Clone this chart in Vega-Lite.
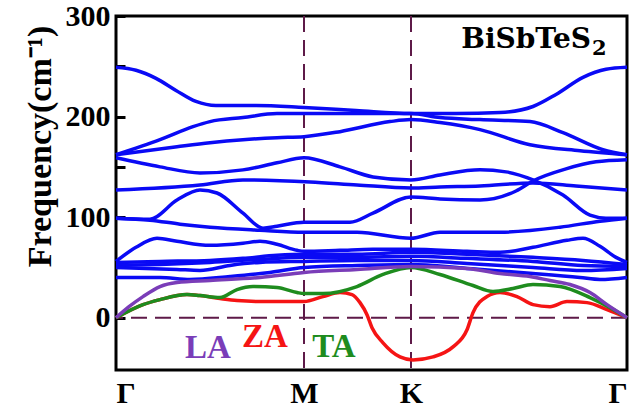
{
  "$schema": "https://vega.github.io/schema/vega-lite/v6.json",
  "width": 511,
  "height": 354,
  "autosize": {"type": "none"},
  "padding": {"left": 116, "top": 16, "right": 2, "bottom": 40},
  "config": {
    "view": {"stroke": "black", "strokeWidth": 3},
    "font": "'Liberation Serif', 'Times New Roman', serif"
  },
  "datasets": {
    "bands": [
      {"b":"o1","k":0,"f":249},{"b":"o1","k":20,"f":246},{"b":"o1","k":40,"f":238},{"b":"o1","k":60,"f":226},{"b":"o1","k":80,"f":215},{"b":"o1","k":100,"f":211},{"b":"o1","k":140,"f":211},{"b":"o1","k":188,"f":209},{"b":"o1","k":240,"f":206},{"b":"o1","k":295,"f":203},{"b":"o1","k":340,"f":203},{"b":"o1","k":384,"f":204},{"b":"o1","k":417,"f":210},{"b":"o1","k":440,"f":222},{"b":"o1","k":467,"f":239},{"b":"o1","k":490,"f":247},{"b":"o1","k":511,"f":249},
      {"b":"o2","k":0,"f":162},{"b":"o2","k":44,"f":177},{"b":"o2","k":77,"f":190},{"b":"o2","k":94,"f":195},{"b":"o2","k":127,"f":199},{"b":"o2","k":161,"f":203},{"b":"o2","k":188,"f":203},{"b":"o2","k":240,"f":203},{"b":"o2","k":295,"f":203},{"b":"o2","k":324,"f":199},{"b":"o2","k":364,"f":197},{"b":"o2","k":414,"f":195},{"b":"o2","k":447,"f":184},{"b":"o2","k":487,"f":167},{"b":"o2","k":511,"f":162},
      {"b":"o3","k":0,"f":162},{"b":"o3","k":61,"f":170},{"b":"o3","k":94,"f":174},{"b":"o3","k":127,"f":177},{"b":"o3","k":161,"f":179},{"b":"o3","k":188,"f":180},{"b":"o3","k":224,"f":185},{"b":"o3","k":274,"f":195},{"b":"o3","k":295,"f":197},{"b":"o3","k":324,"f":194},{"b":"o3","k":364,"f":187},{"b":"o3","k":414,"f":172},{"b":"o3","k":464,"f":166},{"b":"o3","k":511,"f":162},
      {"b":"o4","k":0,"f":159},{"b":"o4","k":44,"f":150},{"b":"o4","k":84,"f":144},{"b":"o4","k":127,"f":147},{"b":"o4","k":161,"f":154},{"b":"o4","k":188,"f":159},{"b":"o4","k":224,"f":150},{"b":"o4","k":257,"f":140},{"b":"o4","k":295,"f":137},{"b":"o4","k":324,"f":142},{"b":"o4","k":364,"f":147},{"b":"o4","k":390,"f":145},{"b":"o4","k":417,"f":137},{"b":"o4","k":447,"f":122},{"b":"o4","k":474,"f":102},{"b":"o4","k":490,"f":99},{"b":"o4","k":511,"f":99},
      {"b":"o5","k":0,"f":127},{"b":"o5","k":84,"f":132},{"b":"o5","k":127,"f":137},{"b":"o5","k":194,"f":135},{"b":"o5","k":241,"f":132},{"b":"o5","k":295,"f":129},{"b":"o5","k":324,"f":130},{"b":"o5","k":364,"f":131},{"b":"o5","k":417,"f":134},{"b":"o5","k":460,"f":131},{"b":"o5","k":511,"f":127},
      {"b":"o6","k":0,"f":99},{"b":"o6","k":34,"f":98},{"b":"o6","k":61,"f":117},{"b":"o6","k":84,"f":127},{"b":"o6","k":101,"f":124},{"b":"o6","k":127,"f":104},{"b":"o6","k":147,"f":89},{"b":"o6","k":161,"f":91},{"b":"o6","k":188,"f":95},{"b":"o6","k":234,"f":95},{"b":"o6","k":257,"f":104},{"b":"o6","k":295,"f":120},{"b":"o6","k":324,"f":118},{"b":"o6","k":364,"f":117},{"b":"o6","k":400,"f":126},{"b":"o6","k":417,"f":136},{"b":"o6","k":450,"f":148},{"b":"o6","k":480,"f":155},{"b":"o6","k":511,"f":157},
      {"b":"o7","k":0,"f":99},{"b":"o7","k":34,"f":97},{"b":"o7","k":64,"f":93},{"b":"o7","k":94,"f":90},{"b":"o7","k":144,"f":87},{"b":"o7","k":188,"f":85},{"b":"o7","k":241,"f":85},{"b":"o7","k":295,"f":79},{"b":"o7","k":324,"f":85},{"b":"o7","k":384,"f":85},{"b":"o7","k":444,"f":90},{"b":"o7","k":484,"f":96},{"b":"o7","k":511,"f":99},
      {"b":"o8","k":0,"f":56},{"b":"o8","k":20,"f":70},{"b":"o8","k":41,"f":79},{"b":"o8","k":61,"f":76},{"b":"o8","k":94,"f":72},{"b":"o8","k":127,"f":74},{"b":"o8","k":144,"f":76},{"b":"o8","k":161,"f":73},{"b":"o8","k":181,"f":67},{"b":"o8","k":188,"f":66},{"b":"o8","k":224,"f":67},{"b":"o8","k":257,"f":68},{"b":"o8","k":295,"f":68},{"b":"o8","k":351,"f":66},{"b":"o8","k":384,"f":65},{"b":"o8","k":417,"f":70},{"b":"o8","k":451,"f":77},{"b":"o8","k":467,"f":79},{"b":"o8","k":484,"f":71},{"b":"o8","k":500,"f":60},{"b":"o8","k":511,"f":55},
      {"b":"o9","k":0,"f":55},{"b":"o9","k":44,"f":56},{"b":"o9","k":94,"f":57},{"b":"o9","k":127,"f":59},{"b":"o9","k":161,"f":62},{"b":"o9","k":188,"f":63},{"b":"o9","k":241,"f":63},{"b":"o9","k":295,"f":65},{"b":"o9","k":351,"f":63},{"b":"o9","k":417,"f":60},{"b":"o9","k":467,"f":57},{"b":"o9","k":511,"f":53},
      {"b":"o10","k":0,"f":52},{"b":"o10","k":44,"f":53},{"b":"o10","k":94,"f":55},{"b":"o10","k":144,"f":58},{"b":"o10","k":188,"f":60},{"b":"o10","k":241,"f":60},{"b":"o10","k":295,"f":61},{"b":"o10","k":351,"f":59},{"b":"o10","k":417,"f":56},{"b":"o10","k":467,"f":52},{"b":"o10","k":511,"f":51},
      {"b":"o11","k":0,"f":50},{"b":"o11","k":61,"f":48},{"b":"o11","k":84,"f":47},{"b":"o11","k":114,"f":52},{"b":"o11","k":144,"f":55},{"b":"o11","k":188,"f":56},{"b":"o11","k":241,"f":57},{"b":"o11","k":295,"f":57},{"b":"o11","k":351,"f":54},{"b":"o11","k":417,"f":50},{"b":"o11","k":467,"f":47},{"b":"o11","k":511,"f":49},
      {"b":"o12","k":0,"f":40},{"b":"o12","k":44,"f":40},{"b":"o12","k":74,"f":38},{"b":"o12","k":114,"f":41},{"b":"o12","k":154,"f":45},{"b":"o12","k":188,"f":50},{"b":"o12","k":241,"f":52},{"b":"o12","k":295,"f":53},{"b":"o12","k":351,"f":49},{"b":"o12","k":417,"f":44},{"b":"o12","k":464,"f":40},{"b":"o12","k":484,"f":38},{"b":"o12","k":511,"f":40},
      {"b":"ZA","k":0,"f":0},{"b":"ZA","k":27,"f":13},{"b":"ZA","k":44,"f":18},{"b":"ZA","k":71,"f":23},{"b":"ZA","k":84,"f":22},{"b":"ZA","k":104,"f":19},{"b":"ZA","k":121,"f":17},{"b":"ZA","k":150,"f":16},{"b":"ZA","k":188,"f":16},{"b":"ZA","k":207,"f":21},{"b":"ZA","k":224,"f":25},{"b":"ZA","k":236,"f":23},{"b":"ZA","k":244,"f":15},{"b":"ZA","k":251,"f":3},{"b":"ZA","k":256,"f":-10},{"b":"ZA","k":267,"f":-25},{"b":"ZA","k":284,"f":-39},{"b":"ZA","k":297,"f":-42},{"b":"ZA","k":317,"f":-39},{"b":"ZA","k":337,"f":-29},{"b":"ZA","k":351,"f":-12},{"b":"ZA","k":357,"f":5},{"b":"ZA","k":371,"f":21},{"b":"ZA","k":384,"f":25},{"b":"ZA","k":401,"f":21},{"b":"ZA","k":417,"f":13},{"b":"ZA","k":434,"f":11},{"b":"ZA","k":451,"f":16},{"b":"ZA","k":471,"f":15},{"b":"ZA","k":491,"f":8},{"b":"ZA","k":511,"f":0},
      {"b":"TA","k":0,"f":0},{"b":"TA","k":27,"f":13},{"b":"TA","k":44,"f":18},{"b":"TA","k":71,"f":23},{"b":"TA","k":84,"f":22},{"b":"TA","k":104,"f":20},{"b":"TA","k":121,"f":28},{"b":"TA","k":137,"f":31},{"b":"TA","k":161,"f":30},{"b":"TA","k":181,"f":25},{"b":"TA","k":188,"f":24},{"b":"TA","k":207,"f":24},{"b":"TA","k":241,"f":31},{"b":"TA","k":267,"f":43},{"b":"TA","k":295,"f":50},{"b":"TA","k":324,"f":43},{"b":"TA","k":357,"f":32},{"b":"TA","k":377,"f":26},{"b":"TA","k":397,"f":29},{"b":"TA","k":417,"f":33},{"b":"TA","k":444,"f":31},{"b":"TA","k":474,"f":20},{"b":"TA","k":494,"f":10},{"b":"TA","k":511,"f":0},
      {"b":"LA","k":0,"f":0},{"b":"LA","k":13,"f":11},{"b":"LA","k":27,"f":21},{"b":"LA","k":44,"f":31},{"b":"LA","k":61,"f":35},{"b":"LA","k":94,"f":37},{"b":"LA","k":144,"f":40},{"b":"LA","k":188,"f":45},{"b":"LA","k":241,"f":48},{"b":"LA","k":295,"f":51},{"b":"LA","k":351,"f":49},{"b":"LA","k":384,"f":44},{"b":"LA","k":414,"f":41},{"b":"LA","k":434,"f":37},{"b":"LA","k":454,"f":33},{"b":"LA","k":474,"f":25},{"b":"LA","k":491,"f":13},{"b":"LA","k":511,"f":0}
    ]
  },
  "layer": [
    {
      "data": {"values": [{"k": 188}, {"k": 295}]},
      "mark": {"type": "rule", "color": "#5e1a48", "strokeWidth": 2, "strokeDash": [16, 8]},
      "encoding": {
        "x": {
          "field": "k", "type": "quantitative",
          "scale": {"domain": [0, 511], "nice": false, "zero": false},
          "axis": {
            "values": [0, 188, 295, 511],
            "labelExpr": "datum.value == 188 ? 'M' : datum.value == 295 ? 'K' : 'Γ'",
            "labelFlush": true,
            "ticks": false, "domain": false, "grid": false, "title": null,
            "labelFont": "'Liberation Serif', 'Times New Roman', serif", "labelFontSize": 30, "labelFontWeight": "bold",
            "labelColor": "black", "labelPadding": 8
          }
        }
      }
    },
    {
      "data": {"values": [{"f": 0}]},
      "mark": {"type": "rule", "color": "#5e1a48", "strokeWidth": 2, "strokeDash": [16, 8]},
      "encoding": {
        "y": {
          "field": "f", "type": "quantitative",
          "scale": {"domain": [-52, 300], "nice": false, "zero": false},
          "axis": {
            "values": [0, 50, 100, 150, 200, 250, 300],
            "labelExpr": "datum.value % 100 == 0 ? datum.label : ''",
            "tickSize": -9, "tickWidth": 3, "tickColor": "black",
            "domain": false, "grid": false,
            "labelFont": "'Liberation Serif', 'Times New Roman', serif", "labelFontSize": 30, "labelFontWeight": "bold",
            "labelColor": "black", "labelPadding": 15,
            "title": "Frequency(cm⁻¹)",
            "titleFont": "'Liberation Serif', 'Times New Roman', serif", "titleFontSize": 34, "titleFontWeight": "bold",
            "titleColor": "black", "titleAngle": -90, "titleX": -66, "titleY": 130,
            "titleAlign": "center", "titleBaseline": "alphabetic"
          }
        }
      }
    },
    {
      "data": {"name": "bands"},
      "transform": [{"filter": "datum.b[0] == 'o'"}],
      "mark": {"type": "line", "interpolate": "monotone", "color": "#0a0af5", "strokeWidth": 3.5},
      "encoding": {
        "x": {"field": "k", "type": "quantitative"},
        "y": {"field": "f", "type": "quantitative"},
        "detail": {"field": "b"}
      }
    },
    {
      "data": {"name": "bands"},
      "transform": [{"filter": "datum.b == 'ZA'"}],
      "mark": {"type": "line", "interpolate": "monotone", "color": "#f51414", "strokeWidth": 3.5},
      "encoding": {
        "x": {"field": "k", "type": "quantitative"},
        "y": {"field": "f", "type": "quantitative"}
      }
    },
    {
      "data": {"name": "bands"},
      "transform": [{"filter": "datum.b == 'TA'"}],
      "mark": {"type": "line", "interpolate": "monotone", "color": "#1e8c1e", "strokeWidth": 3.5},
      "encoding": {
        "x": {"field": "k", "type": "quantitative"},
        "y": {"field": "f", "type": "quantitative"}
      }
    },
    {
      "data": {"name": "bands"},
      "transform": [{"filter": "datum.b == 'LA'"}],
      "mark": {"type": "line", "interpolate": "monotone", "color": "#7a3db8", "strokeWidth": 3.5},
      "encoding": {
        "x": {"field": "k", "type": "quantitative"},
        "y": {"field": "f", "type": "quantitative"}
      }
    },
    {
      "data": {"values": [
        {"k": 92, "f": -40, "t": "LA"},
        {"k": 149, "f": -29, "t": "ZA"},
        {"k": 218, "f": -39, "t": "TA"}
      ]},
      "mark": {"type": "text", "font": "'Liberation Serif', 'Times New Roman', serif", "fontSize": 33, "fontWeight": "bold", "align": "center", "baseline": "alphabetic"},
      "encoding": {
        "x": {"field": "k", "type": "quantitative"},
        "y": {"field": "f", "type": "quantitative"},
        "text": {"field": "t"},
        "color": {"field": "t", "type": "nominal", "scale": {"domain": ["LA", "ZA", "TA"], "range": ["#7a3db8", "#f51414", "#1e8c1e"]}, "legend": null}
      }
    },
    {
      "data": {"values": [{"k": 475, "f": 268, "t": "BiSbTeS"}]},
      "mark": {"type": "text", "font": "'DejaVu Serif', serif", "fontSize": 28, "fontWeight": "bold", "align": "right", "baseline": "alphabetic", "color": "black"},
      "encoding": {
        "x": {"field": "k", "type": "quantitative"},
        "y": {"field": "f", "type": "quantitative"},
        "text": {"field": "t"}
      }
    },
    {
      "data": {"values": [{"k": 476, "f": 261, "t": "2"}]},
      "mark": {"type": "text", "font": "'DejaVu Serif', serif", "fontSize": 21, "fontWeight": "bold", "align": "left", "baseline": "alphabetic", "color": "black"},
      "encoding": {
        "x": {"field": "k", "type": "quantitative"},
        "y": {"field": "f", "type": "quantitative"},
        "text": {"field": "t"}
      }
    }
  ]
}
